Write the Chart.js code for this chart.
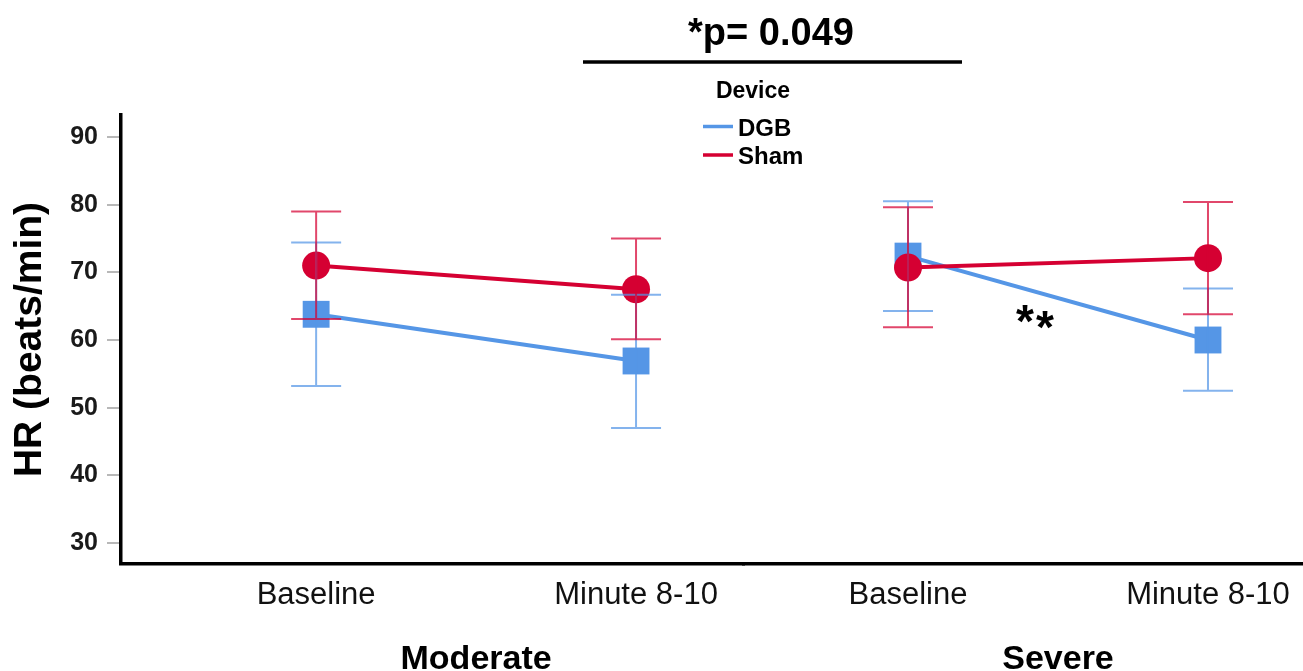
<!DOCTYPE html>
<html><head><meta charset="utf-8">
<script src="https://cdn.jsdelivr.net/npm/chart.js@4.4.0/dist/chart.umd.min.js"></script>
<style>
html,body{margin:0;padding:0;background:#fff;overflow:hidden}
#wrap{position:relative;width:1303px;height:671px;background:#fff}
canvas{position:absolute;left:0;top:0}
</style></head><body>
<div id="wrap"><canvas id="left" width="1303" height="671"></canvas><canvas id="right" width="1303" height="671"></canvas></div>
<script>
// ---- data ----
const categories = ['Baseline', 'Minute 8-10'];
const panelTitles = ['Moderate', 'Severe'];
const seriesNames = ['DGB', 'Sham'];
const yTickValues = [30, 40, 50, 60, 70, 80, 90];
const yAxisTitle = 'HR (beats/min)';
const legendTitle = 'Device';
const pValueText = '*p= 0.049';
const sigMarks = ['*', '*'];

const dgbModerate     = [63.8, 56.9];
const dgbModerateLow  = [53.2, 47.0];
const dgbModerateHigh = [74.4, 66.7];
const shamModerate     = [71.0, 67.5];
const shamModerateLow  = [63.1, 60.1];
const shamModerateHigh = [79.0, 75.0];

const dgbSevere     = [72.4, 60.0];
const dgbSevereLow  = [64.3, 52.5];
const dgbSevereHigh = [80.5, 67.6];
const shamSevere     = [70.7, 72.1];
const shamSevereLow  = [61.9, 63.8];
const shamSevereHigh = [79.6, 80.4];

// ---- styles ----
const FONT = '"Liberation Sans", Arial, sans-serif';
const BLUE = '#5596e6';
const RED = '#d50032';
const BLUE_ERR = 'rgba(85,150,230,0.72)';
const RED_ERR = 'rgba(213,0,50,0.72)';
const Y_MIN = 26.9, Y_MAX = 93.25;

const errorBars = {
  id: 'errorBars',
  afterDatasetsDraw(chart) {
    const {ctx, scales: {x, y}} = chart;
    chart.data.datasets.forEach(ds => {
      ctx.save();
      ctx.strokeStyle = ds.errColor;
      ctx.lineWidth = 2;
      ctx.beginPath();
      ds.errLow.forEach((lo, i) => {
        const px = x.getPixelForValue(i);
        const yl = y.getPixelForValue(lo);
        const yh = y.getPixelForValue(ds.errHigh[i]);
        ctx.moveTo(px, yl); ctx.lineTo(px, yh);
        ctx.moveTo(px - 25, yl); ctx.lineTo(px + 25, yl);
        ctx.moveTo(px - 25, yh); ctx.lineTo(px + 25, yh);
      });
      ctx.stroke();
      ctx.restore();
    });
  }
};

const panelTitle = {
  id: 'panelTitle',
  afterDraw(chart, args, opts) {
    const {ctx, scales: {x}} = chart;
    ctx.save();
    ctx.font = 'bold 34px ' + FONT;
    ctx.fillStyle = '#000';
    ctx.textAlign = 'center';
    ctx.textBaseline = 'alphabetic';
    ctx.fillText(opts.text, x.getPixelForValue(0.5), 669);
    ctx.restore();
  }
};

const annotations = {
  id: 'annotations',
  afterDraw(chart) {
    const {ctx, scales: {x, y}} = chart;
    ctx.save();
    ctx.fillStyle = '#000';
    // p-value
    ctx.font = 'bold 38px ' + FONT;
    ctx.textAlign = 'center';
    ctx.textBaseline = 'alphabetic';
    ctx.fillText(pValueText, 771, 45);
    ctx.strokeStyle = '#000';
    ctx.lineWidth = 3.5;
    ctx.beginPath(); ctx.moveTo(583, 62); ctx.lineTo(962, 62); ctx.stroke();
    // legend
    ctx.font = 'bold 23px ' + FONT;
    ctx.fillText(legendTitle, 753, 98);
    ctx.textAlign = 'left';
    ctx.font = 'bold 24px ' + FONT;
    const ys = [126.5, 155];
    chart.data.datasets.forEach((ds, i) => {
      ctx.strokeStyle = ds.borderColor;
      ctx.lineWidth = 3.5;
      ctx.beginPath(); ctx.moveTo(703, ys[i]); ctx.lineTo(733, ys[i]); ctx.stroke();
      ctx.fillText(seriesNames[i], 738, ys[i] + 9);
    });
    // significance marks (anchored through the scales)
    ctx.font = 'bold 46px ' + FONT;
    ctx.textAlign = 'center';
    const sx = x.getPixelForValue(0.39), sy = y.getPixelForValue(64.1);
    ctx.fillText(sigMarks[0], sx, sy + 25);
    ctx.fillText(sigMarks[1], sx + 20, sy + 31);
    ctx.restore();
  }
};

function makeDatasets(dgb, dgbLo, dgbHi, sham, shamLo, shamHi) {
  return [
    {
      label: seriesNames[0],
      data: dgb.map((v, i) => ({x: i, y: v})),
      borderColor: BLUE, backgroundColor: BLUE,
      pointBackgroundColor: BLUE, pointBorderWidth: 0,
      pointStyle: 'rect', pointRadius: 19,
      borderWidth: 4, tension: 0, order: 1,
      errLow: dgbLo, errHigh: dgbHi, errColor: BLUE_ERR
    },
    {
      label: seriesNames[1],
      data: sham.map((v, i) => ({x: i, y: v})),
      borderColor: RED, backgroundColor: RED,
      pointBackgroundColor: RED, pointBorderWidth: 0,
      pointStyle: 'circle', pointRadius: 14,
      borderWidth: 4, tension: 0, order: 0,
      errLow: shamLo, errHigh: shamHi, errColor: RED_ERR
    }
  ];
}

function xScale(min, max) {
  return {
    type: 'linear', min, max,
    afterBuildTicks: s => { s.ticks = categories.map((c, i) => ({value: i})); },
    afterFit: s => { s.height = 107; s.paddingLeft = 0; s.paddingRight = 0; },
    ticks: {
      callback: v => categories[v],
      font: {family: FONT, size: 31}, color: '#111',
      padding: 13, maxRotation: 0, autoSkip: false
    },
    grid: {display: false, drawTicks: false},
    border: {display: true, color: '#000', width: 3.5}
  };
}

const baseOptions = {
  responsive: false, animation: false, events: []
};

new Chart(document.getElementById('left'), {
  type: 'line',
  data: {datasets: makeDatasets(dgbModerate, dgbModerateLow, dgbModerateHigh, shamModerate, shamModerateLow, shamModerateHigh)},
  plugins: [errorBars, panelTitle],
  options: {
    ...baseOptions,
    layout: {autoPadding: false, padding: {top: 115, right: 559, bottom: 0, left: 0}},
    plugins: {legend: {display: false}, tooltip: {enabled: false}, panelTitle: {text: panelTitles[0]}},
    scales: {
      x: xScale(-0.61, 1.3375),
      y: {
        type: 'linear', min: Y_MIN, max: Y_MAX,
        afterBuildTicks: s => { s.ticks = yTickValues.map(v => ({value: v})); },
        afterFit: s => { s.width = 121; s.paddingTop = 0; s.paddingBottom = 0; },
        ticks: {font: {family: FONT, size: 25, weight: 'bold'}, color: '#1a1a1a', padding: 9},
        grid: {display: true, drawOnChartArea: false, drawTicks: true, tickLength: 14, color: '#b8b8b8', lineWidth: 2},
        border: {display: true, color: '#000', width: 3.5},
        title: {display: true, text: yAxisTitle, color: '#000', font: {family: FONT, size: 39, weight: 'bold'}, padding: {top: 7, bottom: 0}}
      }
    }
  }
});

new Chart(document.getElementById('right'), {
  type: 'line',
  data: {datasets: makeDatasets(dgbSevere, dgbSevereLow, dgbSevereHigh, shamSevere, shamSevereLow, shamSevereHigh)},
  plugins: [errorBars, panelTitle, annotations],
  options: {
    ...baseOptions,
    layout: {autoPadding: false, padding: {top: 115, right: 0, bottom: 0, left: 744}},
    plugins: {legend: {display: false}, tooltip: {enabled: false}, panelTitle: {text: panelTitles[1]}},
    scales: {
      x: xScale(-0.5467, 1.3167),
      y: {type: 'linear', display: false, min: Y_MIN, max: Y_MAX}
    }
  }
});
</script>
</body></html>
